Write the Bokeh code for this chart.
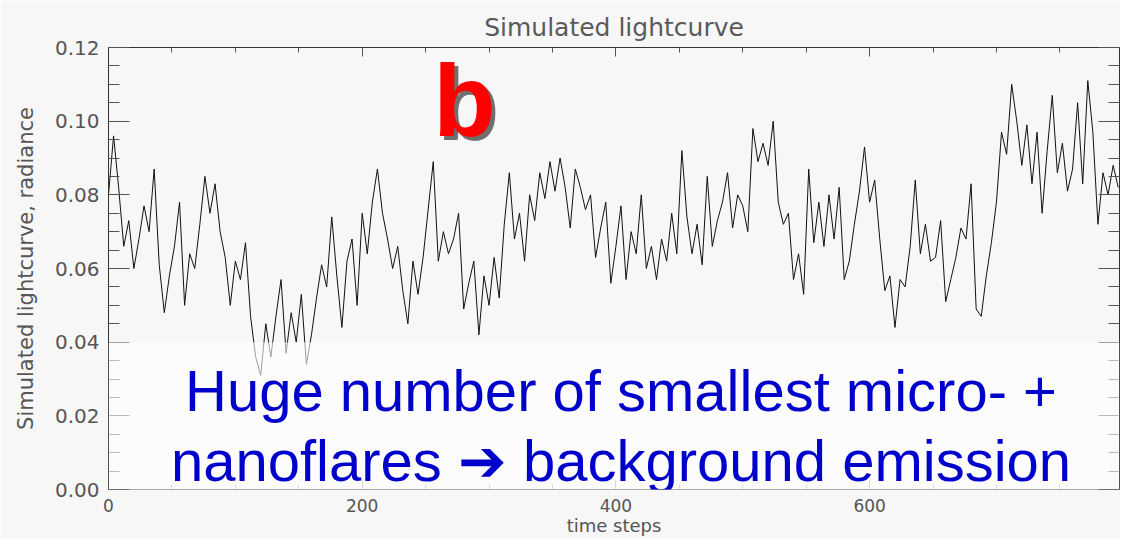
from bokeh.plotting import figure
from bokeh.models import (LinearAxis, FixedTicker, PrintfTickFormatter, Label,
                          BoxAnnotation, Range1d)
from bokeh.embed import file_html
from bokeh.resources import INLINE

# ---------------- data ----------------
time_steps = list(range(0, 800, 4))
radiance = [
    0.080, 0.096, 0.082, 0.066, 0.073, 0.060, 0.068, 0.077, 0.070, 0.087,
    0.061, 0.048, 0.058, 0.066, 0.078, 0.050, 0.064, 0.060, 0.072, 0.085,
    0.075, 0.083, 0.070, 0.063, 0.050, 0.062, 0.057, 0.067, 0.047, 0.036,
    0.031, 0.045, 0.036, 0.047, 0.057, 0.037, 0.048, 0.040, 0.053, 0.034,
    0.042, 0.052, 0.061, 0.055, 0.074, 0.058, 0.044, 0.062, 0.068, 0.050,
    0.075, 0.064, 0.078, 0.087, 0.075, 0.068, 0.060, 0.066, 0.054, 0.045,
    0.062, 0.053, 0.063, 0.076, 0.089, 0.062, 0.070, 0.064, 0.068, 0.075,
    0.049, 0.056, 0.062, 0.042, 0.058, 0.050, 0.063, 0.052, 0.072, 0.086,
    0.068, 0.075, 0.062, 0.080, 0.073, 0.086, 0.079, 0.089, 0.081, 0.090,
    0.082, 0.071, 0.087, 0.082, 0.076, 0.080, 0.063, 0.071, 0.078, 0.056,
    0.066, 0.077, 0.057, 0.070, 0.064, 0.080, 0.060, 0.066, 0.057, 0.068,
    0.062, 0.075, 0.064, 0.092, 0.074, 0.064, 0.072, 0.061, 0.085, 0.066,
    0.073, 0.078, 0.086, 0.071, 0.080, 0.077, 0.070, 0.098, 0.089, 0.094,
    0.088, 0.100, 0.078, 0.072, 0.075, 0.057, 0.064, 0.053, 0.087, 0.067,
    0.078, 0.066, 0.080, 0.068, 0.082, 0.057, 0.062, 0.072, 0.081, 0.093,
    0.078, 0.084, 0.068, 0.054, 0.058, 0.044, 0.057, 0.055, 0.066, 0.084,
    0.064, 0.072, 0.062, 0.063, 0.073, 0.051, 0.057, 0.063, 0.071, 0.068,
    0.083, 0.049, 0.047, 0.058, 0.067, 0.078, 0.097, 0.091, 0.110, 0.100,
    0.088, 0.099, 0.083, 0.097, 0.075, 0.092, 0.107, 0.086, 0.094, 0.081,
    0.087, 0.105, 0.083, 0.111, 0.097, 0.072, 0.086, 0.080, 0.088, 0.082,
]

x_major_ticks = [0, 200, 400, 600]
x_minor_ticks = [50, 100, 150, 250, 300, 350, 450, 500, 550, 650, 700, 750]
y_major_ticks = [0.00, 0.02, 0.04, 0.06, 0.08, 0.10, 0.12]
y_minor_ticks = [0.005, 0.010, 0.015, 0.025, 0.030, 0.035, 0.045, 0.050, 0.055,
                 0.065, 0.070, 0.075, 0.085, 0.090, 0.095, 0.105, 0.110, 0.115]

title_text = "Simulated lightcurve"
x_label = "time steps"
y_label = "Simulated lightcurve, radiance"
panel_letter = "b"
caption_lines = ["Huge number of smallest micro- +",
                 "nanoflares \u2794 background emission"]

# ---------------- figure ----------------
BG = "#f7f7f7"
AX = "#555555"
p = figure(width=1120, height=539,
           x_range=Range1d(0, 797), y_range=Range1d(0, 0.12),
           output_backend="svg", toolbar_location=None,
           min_border_left=108, min_border_right=1,
           min_border_top=47, min_border_bottom=50,
           background_fill_color=BG, border_fill_color=BG)
p.outline_line_color = None
p.grid.visible = False

p.title.text = title_text
p.title.align = "center"
p.title.text_font = "DejaVu Sans"
p.title.text_font_size = "25px"
p.title.text_font_style = "normal"
p.title.text_color = "#5a5a5a"
p.title.standoff = 12

xt = FixedTicker(ticks=x_major_ticks, minor_ticks=x_minor_ticks)
yt = FixedTicker(ticks=y_major_ticks, minor_ticks=y_minor_ticks)

# bottom axis
xa = p.xaxis[0]
xa.ticker = xt
xa.axis_line_color = "#9a9a9a"
xa.major_tick_line_color = "#9a9a9a"
xa.minor_tick_line_color = "#9a9a9a"
xa.major_tick_in, xa.major_tick_out = 9, 0
xa.minor_tick_in, xa.minor_tick_out = 5, 0
xa.major_label_standoff = 9
xa.major_label_text_font = "DejaVu Sans"
xa.major_label_text_font_size = "17px"
xa.major_label_text_color = AX
xa.axis_label = x_label
xa.axis_label_standoff = 0
xa.axis_label_text_font = "DejaVu Sans"
xa.axis_label_text_font_size = "18px"
xa.axis_label_text_font_style = "normal"
xa.axis_label_text_color = AX

# left axis
ya = p.yaxis[0]
ya.ticker = yt
ya.formatter = PrintfTickFormatter(format="%.2f")
ya.axis_line_color = "#333333"
ya.major_tick_line_color = AX
ya.minor_tick_line_color = AX
ya.major_tick_in, ya.major_tick_out = 21, 0
ya.minor_tick_in, ya.minor_tick_out = 11, 0
ya.major_label_standoff = 9
ya.major_label_text_font = "DejaVu Sans"
ya.major_label_text_font_size = "20px"
ya.major_label_text_color = AX
ya.axis_label = y_label
ya.axis_label_standoff = 14
ya.axis_label_text_font = "DejaVu Sans"
ya.axis_label_text_font_size = "21px"
ya.axis_label_text_font_style = "normal"
ya.axis_label_text_color = AX

# top and right box axes (ticks only, labels not drawn)
box_axis = dict(major_label_text_font_size="1px", major_label_text_color=None,
                major_label_standoff=0, axis_line_color="#333333",
                major_tick_line_color=AX, minor_tick_line_color=AX,
                major_tick_out=0, minor_tick_out=0)
p.add_layout(LinearAxis(ticker=xt, major_tick_in=9, minor_tick_in=5, **box_axis), "above")
p.add_layout(LinearAxis(ticker=yt, major_tick_in=21, minor_tick_in=11, **box_axis), "right")

# light curve
p.line(time_steps, radiance, line_color="#111111", line_width=1)

# semi-transparent caption box
p.add_layout(BoxAnnotation(top=0.04, fill_color="white", fill_alpha=0.6,
                           line_color=None))

# caption
cap = dict(text_align="center", text_baseline="alphabetic",
           text_font="Liberation Sans", text_font_size="58px", text_color="#0000cc")
p.add_layout(Label(x=404, y=0.0269, text=caption_lines[0], **cap))
p.add_layout(Label(x=404, y=0.0079, text=caption_lines[1], **cap))

# red panel letter with shadow
let = dict(text_baseline="alphabetic", text_font="Liberation Sans",
           text_font_style="bold", text_font_size="102px")
p.add_layout(Label(x=256, y=0.1056, x_offset=4, y_offset=-4, text=panel_letter,
                   text_color="#000000", text_alpha=0.55, **let))
p.add_layout(Label(x=256, y=0.1056, text=panel_letter, text_color="#ff0000", **let))

open("out.html", "w").write(file_html(p, INLINE))
